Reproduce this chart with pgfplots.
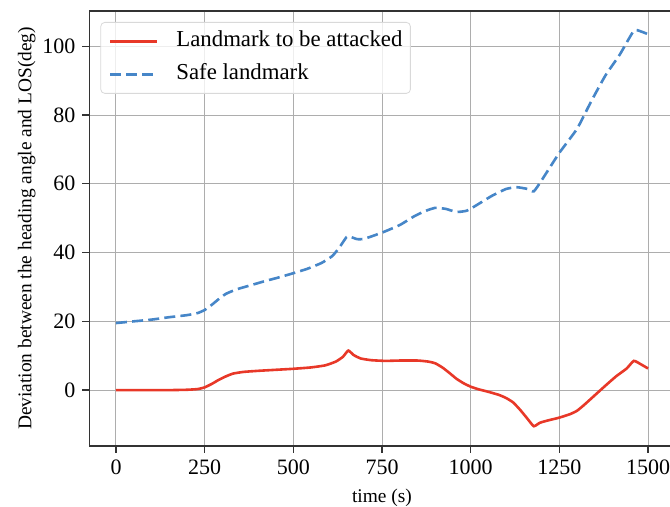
\documentclass[border=0pt]{standalone}
\usepackage{fontspec}
\setmainfont{Liberation Serif}
\usepackage{pgfplots}
\pgfplotsset{compat=1.18}

\definecolor{attackred}{RGB}{232,56,40}
\definecolor{safeblue}{RGB}{70,134,200}

\begin{document}
\begin{tikzpicture}
\begin{scope}
\clip (-44.7pt,-30.5pt) rectangle (290.3pt,223pt);
\begin{axis}[
  at={(0,0)}, anchor=south west,
  scale only axis,
  width=292.6pt, height=217.5pt,
  xmin=-75, xmax=1575,
  ymin=-16.25, ymax=110.25,
  xtick={0,250,500,750,1000,1250,1500},
  ytick={0,20,40,60,80,100},
  xtick pos=left, ytick pos=left,
  axis line style={black!80, line width=0.8pt},
  tick align=outside,
  major tick length=3.5pt,
  tick style={black!80, line width=0.7pt},
  grid=major,
  major grid style={black!32, line width=0.5pt},
  /pgf/number format/assume math mode=true,
  /pgf/number format/set thousands separator={},
  ticklabel style={font=\fontsize{11}{13}\selectfont},
  xlabel={time (s)},
  ylabel={Deviation between the heading angle and LOS(deg)},
  label style={font=\fontsize{9.7}{12}\selectfont},
  ylabel style={yshift=-3.5pt},
  legend style={
    at={(axis description cs:0,1)}, anchor=north west,
    xshift=5.5pt, yshift=-5.5pt,
    font=\fontsize{11.4}{14}\selectfont,
    draw=black!15, fill=white, fill opacity=0.8, text opacity=1,
    rounded corners=2pt,
    inner xsep=4pt, inner ysep=4.25pt,
    row sep=6pt,
    nodes={inner sep=0pt, text height=8pt, text depth=2.5pt, anchor=west},
  },
  legend cell align=left,
  % sample line followed by the gap before the entry text
  legend image code/.code={
    \draw[#1] (0pt,0pt) -- (23.5pt,0pt);
    \path (32.5pt,0pt);
  },
]
\addplot[attackred, line width=1.3pt, smooth, tension=0.3] coordinates {
(0,0) (50,0) (100,0) (150,0) (200,0.1) (230,0.3) (250,0.8) (270,1.8)
(290,3) (310,4) (330,4.8) (360,5.3) (400,5.6) (450,5.9) (500,6.2)
(550,6.6) (590,7.2) (620,8.3) (640,9.7) (655,11.5) (670,10.2) (690,9.2)
(720,8.7) (760,8.5) (800,8.6) (850,8.6) (880,8.3) (900,7.8) (920,6.6)
(940,5) (960,3.3) (980,2) (1000,1) (1020,0.3) (1050,-0.5) (1080,-1.4)
(1100,-2.3) (1120,-3.6) (1140,-5.8) (1160,-8.3) (1178,-10.5) (1195,-9.5)
(1215,-8.9) (1250,-8) (1280,-7) (1300,-6) (1320,-4.3) (1350,-1.5)
(1380,1.3) (1410,4) (1440,6.3) (1460,8.5) (1480,7.5) (1500,6.3)
};
\addlegendentry{Landmark to be attacked}
\addplot[safeblue, line width=1.3pt, dash pattern=on 5.5pt off 2.6pt, smooth, tension=0.3] coordinates {
(0,19.5) (50,20) (100,20.5) (150,21.2) (200,21.8) (230,22.4) (250,23.3)
(270,24.8) (290,26.5) (310,28) (340,29.3) (380,30.5) (420,31.7) (460,32.8)
(500,34) (540,35.3) (580,37) (610,39) (630,41.5) (650,44.5) (660,44.6)
(680,43.9) (700,44) (750,45.8) (800,48) (840,50.5) (870,52) (900,53)
(930,52.7) (960,51.8) (990,52.2) (1020,54) (1060,56.5) (1100,58.5)
(1130,59) (1160,58.5) (1178,57.8) (1200,61) (1250,69) (1300,76)
(1340,84) (1380,91.5) (1420,97.5) (1460,104.5) (1480,104.3) (1500,103.5)
};
\addlegendentry{Safe landmark}
\end{axis}
\end{scope}
\pgfresetboundingbox
\path[use as bounding box] (-44.7pt,-30.5pt) rectangle (290.3pt,223pt);
\end{tikzpicture}
\end{document}
